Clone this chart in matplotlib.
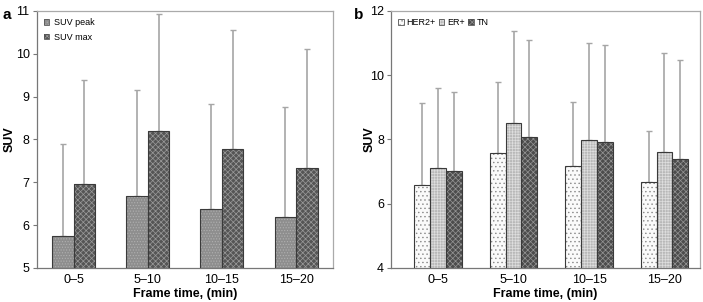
import numpy as np
import matplotlib
matplotlib.use("Agg")
import matplotlib.pyplot as plt
from matplotlib.patches import Patch

plt.rcParams['font.family'] = ['Liberation Sans', 'DejaVu Sans']
plt.rcParams['hatch.linewidth'] = 0.5

frames = ['0\u20135', '5\u201310', '10\u201315', '15\u201320']

# panel a
suv_peak = [5.75, 6.68, 6.38, 6.20]
suv_peak_top = [7.90, 9.15, 8.83, 8.75]
suv_max = [6.97, 8.20, 7.78, 7.34]
suv_max_top = [9.40, 10.93, 10.55, 10.12]

# panel b
her2 = [6.59, 7.57, 7.17, 6.67]
her2_top = [9.13, 9.78, 9.17, 8.27]
er = [7.12, 8.51, 7.98, 7.60]
er_top = [9.60, 11.38, 10.99, 10.69]
tn = [7.02, 8.07, 7.93, 7.39]
tn_top = [9.47, 11.09, 10.94, 10.47]

styles = {
    'SUV peak': ('#8e8e8e', '#b0b0b0', '......'),
    'SUV max': ('#555555', '#9a9a9a', 'xxxxxx'),
    'HER2+': ('#fafafa', '#888888', '....'),
    'ER+': ('#b8b8b8', '#dedede', '++++++'),
    'TN': ('#4c4c4c', '#959595', 'xxxxxx'),
}


def draw_bars(ax, x, vals, tops, name, width):
    face, hcol, hatch = styles[name]
    ax.bar(x, vals, width, color=face, edgecolor=hcol, hatch=hatch, linewidth=0, zorder=2)
    ax.bar(x, vals, width, fill=False, edgecolor='#3a3a3a', linewidth=0.8, zorder=3)
    err = np.array(tops) - np.array(vals)
    ax.errorbar(x, vals, yerr=[np.zeros(len(vals)), err], fmt='none',
                ecolor='#a6a6a6', elinewidth=1.2, capsize=2.5, capthick=1.0, zorder=1)


def handles(names):
    out = []
    for n in names:
        face, hcol, hatch = styles[n]
        out.append((Patch(facecolor=face, edgecolor=hcol, hatch=hatch, linewidth=0),
                    Patch(fill=False, edgecolor='#555555', linewidth=0.6)))
    return out


def style_axes(ax, ylab_x):
    for s in ['top', 'right']:
        ax.spines[s].set_color('#aaaaaa')
    for s in ['left', 'bottom']:
        ax.spines[s].set_color('#777777')
    for s in ax.spines.values():
        s.set_linewidth(0.9)
    ax.tick_params(axis='y', direction='out', length=3, color='#777777', labelsize=9, pad=2)
    ax.tick_params(axis='x', length=0, labelsize=9, pad=4)
    ax.set_xlabel('Frame time, (min)', fontsize=9, fontweight='bold', labelpad=2)
    ax.set_ylabel('SUV', fontsize=9, fontweight='bold')
    ax.yaxis.set_label_coords(ylab_x, 0.5)


fig = plt.figure(figsize=(7.03, 3.02), dpi=100)

# ---- panel a
ax1 = fig.add_axes([0.052, 0.1126, 0.422, 0.851])
x = np.arange(len(frames))
w = 0.29
draw_bars(ax1, x - w / 2, suv_peak, suv_peak_top, 'SUV peak', w)
draw_bars(ax1, x + w / 2, suv_max, suv_max_top, 'SUV max', w)
ax1.set_xlim(-0.5, 3.5)
ax1.set_ylim(5, 11)
ax1.set_yticks(range(5, 12))
ax1.set_xticks(x)
ax1.set_xticklabels(frames)
style_axes(ax1, -0.07)
ax1.legend(handles(['SUV peak', 'SUV max']), ['SUV peak', 'SUV max'], loc='upper left',
           frameon=False, fontsize=6.5, handlelength=0.6, handleheight=0.6,
           handletextpad=0.5, labelspacing=0.6, borderaxespad=0.4)
fig.text(0.004, 0.975, 'a', fontsize=11, fontweight='bold', va='top')

# ---- panel b
ax2 = fig.add_axes([0.556, 0.1126, 0.4397, 0.851])
w = 0.21
draw_bars(ax2, x - w, her2, her2_top, 'HER2+', w)
draw_bars(ax2, x, er, er_top, 'ER+', w)
draw_bars(ax2, x + w, tn, tn_top, 'TN', w)
ax2.set_xlim(-0.625, 3.47)
ax2.set_ylim(4, 12)
ax2.set_yticks([4, 6, 8, 10, 12])
ax2.set_xticks(x)
ax2.set_xticklabels(frames)
style_axes(ax2, -0.05)
ax2.legend(handles(['HER2+', 'ER+', 'TN']), ['HER2+', 'ER+', 'TN'], loc='upper left',
           frameon=False, fontsize=6.5, ncol=3, handlelength=0.6, handleheight=0.6,
           handletextpad=0.3, columnspacing=0.4, borderaxespad=0.4)
fig.text(0.503, 0.975, 'b', fontsize=11, fontweight='bold', va='top')

fig.savefig('out.png', dpi=100)
